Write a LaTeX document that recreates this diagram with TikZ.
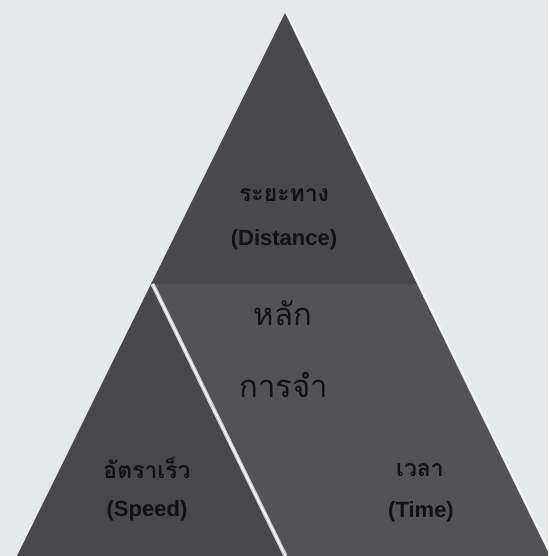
\documentclass[tikz,border=0pt]{standalone}
\usepackage{fontspec}
\setmainfont{Liberation Sans}
\newfontfamily\thaifont[Script=Thai]{Loma}
\definecolor{bg}{HTML}{E6E8EA}
\definecolor{topgray}{HTML}{48484D}
\definecolor{midgray}{HTML}{525257}
\definecolor{leftgray}{HTML}{47474C}
\definecolor{ink}{HTML}{121214}
\definecolor{seam}{HTML}{CFD0D4}
\tikzset{
  lbl/.style={text=ink, font=\bfseries\fontsize{22}{24}\selectfont, inner sep=0pt, anchor=center},
  thlbl/.style={text=ink, font=\thaifont\bfseries\fontsize{23}{25}\selectfont, inner sep=0pt, anchor=center},
  bigth/.style={text=ink, font=\thaifont\fontsize{31}{33}\selectfont, inner sep=0pt, anchor=center},
}
\begin{document}
\begin{tikzpicture}[x=1pt,y=-1pt]
  \useasboundingbox (0,0) rectangle (548,556);
  \fill[bg] (0,0) rectangle (548,556);
  \begin{scope}
    \clip (0,0) rectangle (548,556);
    % points
    \coordinate (A) at (285,13);
    \coordinate (L) at (151,284);
    \coordinate (R) at (417,284);
    \coordinate (BL) at (17,556);
    \coordinate (BM) at (284,556);
    \coordinate (BR) at (550,556);
    % top triangle
    \fill[topgray] (A) -- (R) -- (L) -- cycle;
    % middle region
    \fill[midgray] (L) -- (R) -- (BR) -- (BM) -- cycle;
    % lower-left triangle
    \fill[leftgray] (L) -- (BM) -- (BL) -- cycle;
    % seam between lower-left triangle and middle
    \draw[seam, line width=4pt] ([xshift=1.5pt]L) -- ([xshift=1.5pt]BM);
    \draw[white, line width=1.2pt] ([xshift=1.5pt]L) -- ([xshift=1.5pt]BM);
    % light rim on right edge
    \draw[white!85!bg, line width=1pt] ([xshift=1.8pt]A) -- ([xshift=1.8pt]BR);
  \end{scope}
  % labels
  \node[thlbl] (dth) at (284,195) {ระยะทาง};
  \node[lbl]   (den) at (284,240) {(Distance)};
  \node[bigth] (m1)  at (283,313) {หลัก};
  \node[bigth] (m2)  at (284,385) {การจำ};
  \node[thlbl] (sth) at (147,468) {อัตราเร็ว};
  \node[lbl]   (sen) at (147,511) {(Speed)};
  \node[thlbl] (tth) at (420,470) {เวลา};
  \node[lbl]   (ten) at (421,512) {(Time)};
\end{tikzpicture}
\end{document}
